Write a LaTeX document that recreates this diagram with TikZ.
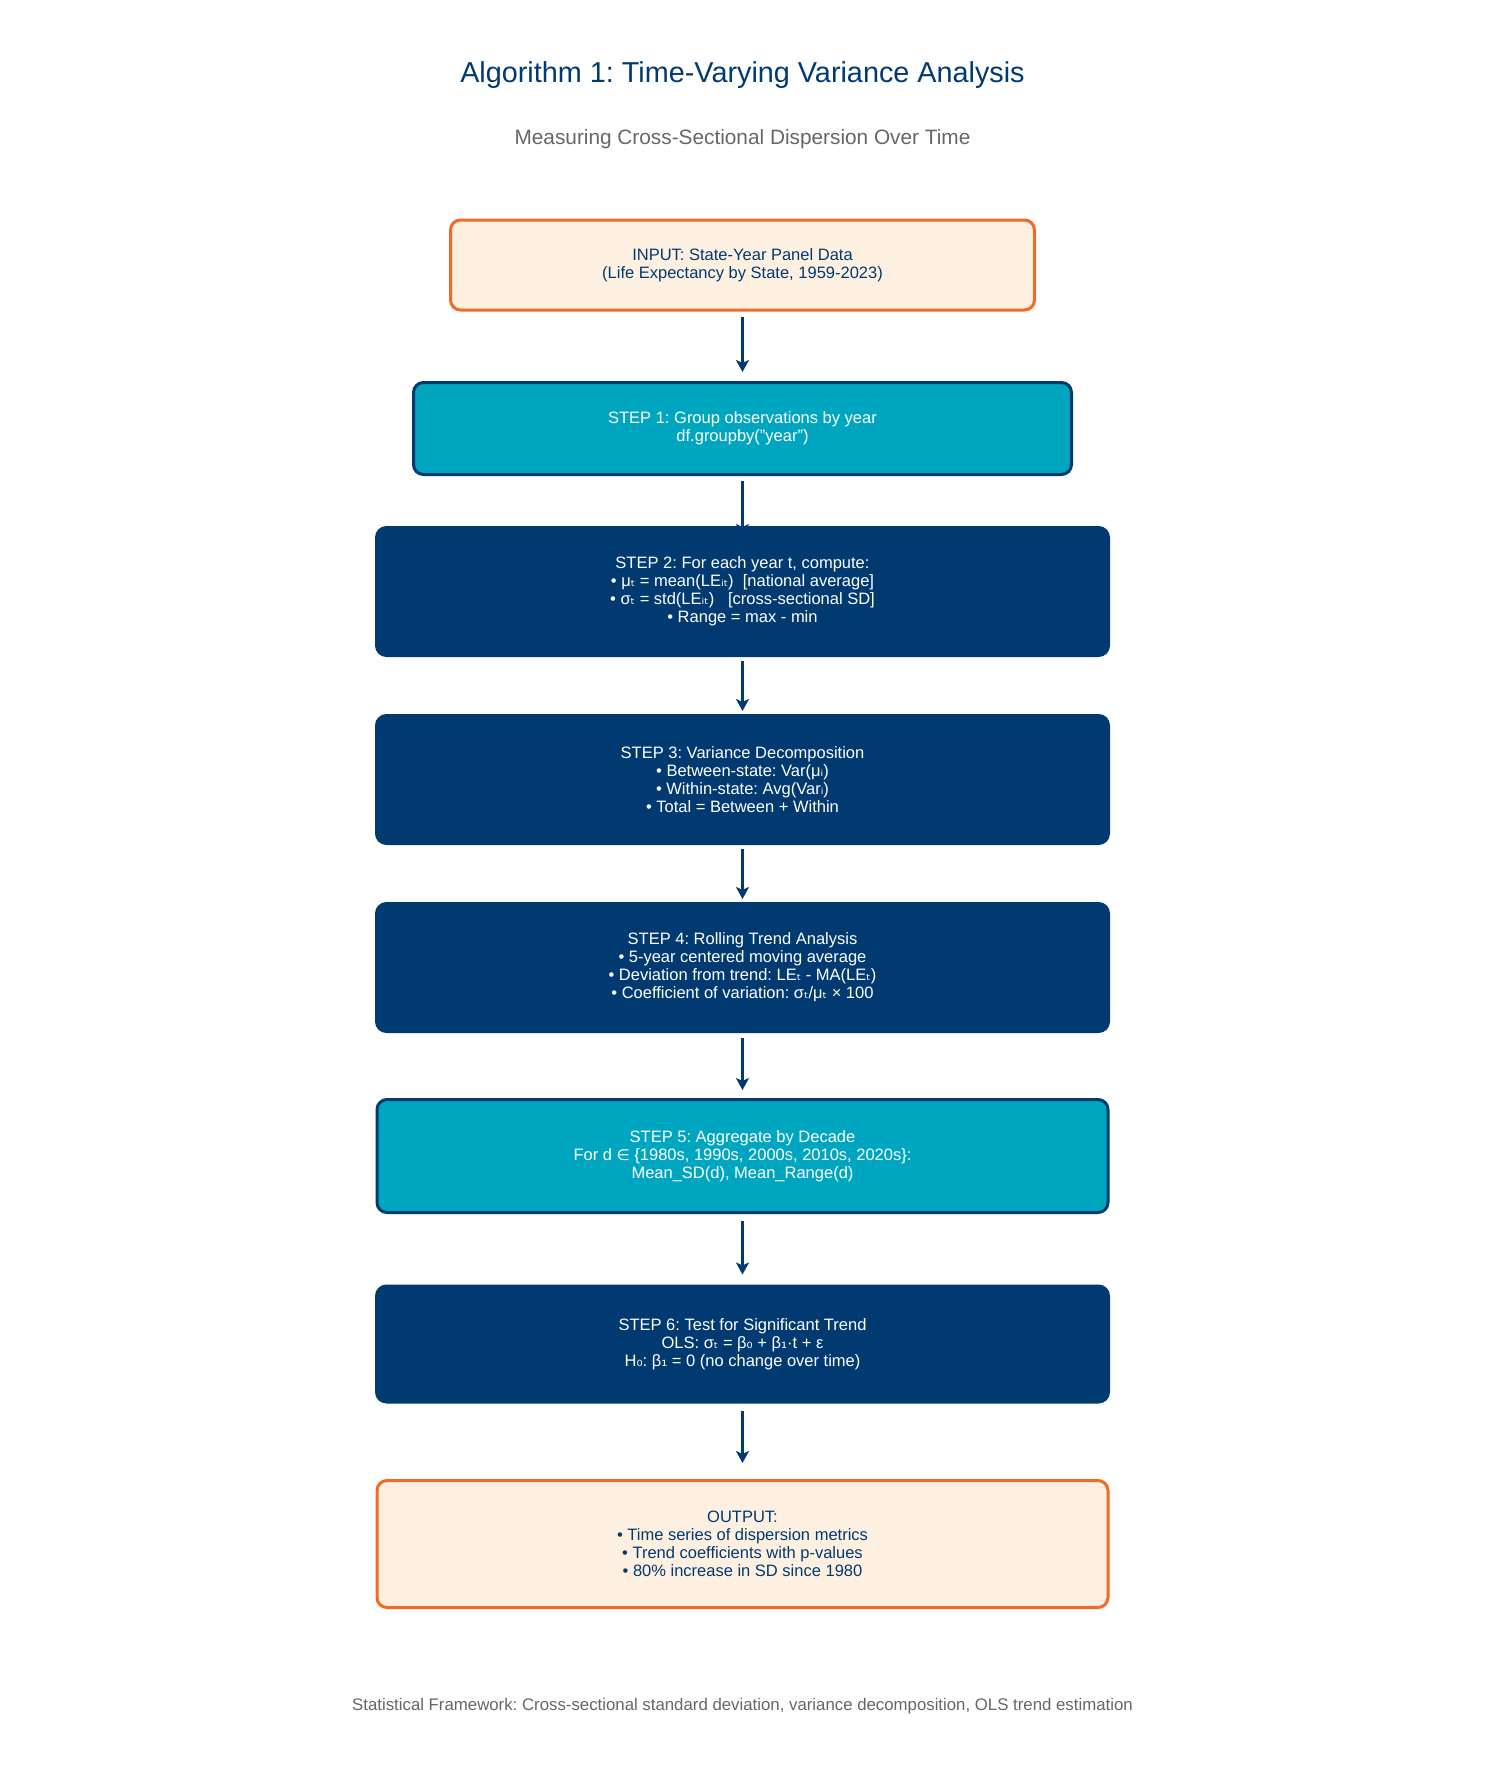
\documentclass[tikz,border=0pt]{standalone}
\usepackage{fontspec}
\setmainfont{Liberation Sans}
\newfontfamily\dvs{DejaVu Sans}[Scale=0.92]
\usetikzlibrary{arrows.meta,calc,backgrounds}
\definecolor{navy}{RGB}{0,58,112}
\definecolor{stepteal}{RGB}{0,166,192}
\definecolor{peach}{RGB}{253,240,224}
\definecolor{orng}{RGB}{242,106,40}
\definecolor{subgray}{RGB}{102,102,102}
\newcommand\sbs[1]{{\dvs #1}}
\frenchspacing
\begin{document}
\begin{tikzpicture}[x=0.5pt,y=-0.5pt,
  basebox/.style={rounded corners=5pt, line width=1.5pt, align=center, inner sep=0pt,
    font=\fontsize{8.25}{9}\selectfont},
  iobox/.style={basebox, draw=orng, fill=peach, text=navy},
  tealbox/.style={basebox, draw=navy, fill=stepteal, text=white},
  navybox/.style={basebox, draw=navy, fill=navy, text=white},
  arr/.style={draw=navy, line width=1.5pt, -{Stealth[length=6pt,width=6.5pt,inset=1.5pt]}}]
\useasboundingbox (0,0) rectangle (1485,1785);

\node[font=\fontsize{14.4}{16}\selectfont, text=navy] (title) at (742.5,75)
  {Algorithm 1: Time-Varying Variance Analysis};
\node[font=\fontsize{10.4}{12}\selectfont, text=subgray] (subtitle) at (742.5,139)
  {Measuring Cross-Sectional Dispersion Over Time};

\node[iobox, minimum width=292pt, minimum height=45pt] (input) at (742.5,265)
  {INPUT: State-Year Panel Data\\(Life Expectancy by State, 1959-2023)};
\node[tealbox, minimum width=329pt, minimum height=46pt] (s1) at (742.5,428.5)
  {STEP 1: Group observations by year\\df.groupby("year")};
\node[navybox, minimum width=366pt, minimum height=64pt] (s2) at (742.5,591.5)
  {STEP 2: For each year t, compute:\\
   • μ\sbs{ₜ} = mean(LE\sbs{ᵢₜ})~ [national average]\\
   • σ\sbs{ₜ} = std(LE\sbs{ᵢₜ})~~ [cross-sectional SD]\\
   • Range = max - min};
\node[navybox, minimum width=366pt, minimum height=64pt] (s3) at (742.5,779.5)
  {STEP 3: Variance Decomposition\\
   • Between-state: Var(μ\sbs{ᵢ})\\
   • Within-state: Avg(Var\sbs{ᵢ})\\
   • Total = Between + Within};
\node[navybox, minimum width=366pt, minimum height=64pt] (s4) at (742.5,967.5)
  {STEP 4: Rolling Trend Analysis\\
   • 5-year centered moving average\\
   • Deviation from trend: LE\sbs{ₜ} - MA(LE\sbs{ₜ})\\
   • Coefficient of variation: σ\sbs{ₜ}/μ\sbs{ₜ} × 100};
\node[tealbox, minimum width=365.5pt, minimum height=56.5pt] (s5) at (742.5,1156)
  {STEP 5: Aggregate by Decade\\
   For d \sbs{∈} \{1980s, 1990s, 2000s, 2010s, 2020s\}:\\
   Mean\_SD(d), Mean\_Range(d)};
\node[navybox, minimum width=366pt, minimum height=58pt] (s6) at (742.5,1344)
  {STEP 6: Test for Significant Trend\\
   OLS: σ\sbs{ₜ} = β\sbs{₀} + β\sbs{₁}·t + ε\\
   H\sbs{₀}: β\sbs{₁} = 0 (no change over time)};
\node[iobox, minimum width=365.5pt, minimum height=63.5pt] (output) at (742.5,1544)
  {OUTPUT:\\
   • Time series of dispersion metrics\\
   • Trend coefficients with p-values\\
   • 80\% increase in SD since 1980};

\node[font=\fontsize{8.4}{10}\selectfont, text=subgray] (footer) at (742.5,1706)
  {Statistical Framework: Cross-sectional standard deviation, variance decomposition, OLS trend estimation};

\begin{scope}[on background layer]
\draw[arr] ($(input.south)+(0,5)$) -- ($(s1.north)+(0,-9)$);
\draw[arr] ($(s1.south)+(0,5)$) -- ($(s2.north)+(0,10)$);
\draw[arr] ($(s2.south)+(0,4)$) -- ($(s3.north)+(0,-3)$);
\draw[arr] ($(s3.south)+(0,4)$) -- ($(s4.north)+(0,-3)$);
\draw[arr] ($(s4.south)+(0,5)$) -- ($(s5.north)+(0,-8)$);
\draw[arr] ($(s5.south)+(0,7)$) -- ($(s6.north)+(0,-10)$);
\draw[arr] ($(s6.south)+(0,7)$) -- ($(output.north)+(0,-16)$);
\end{scope}
\end{tikzpicture}
\end{document}
